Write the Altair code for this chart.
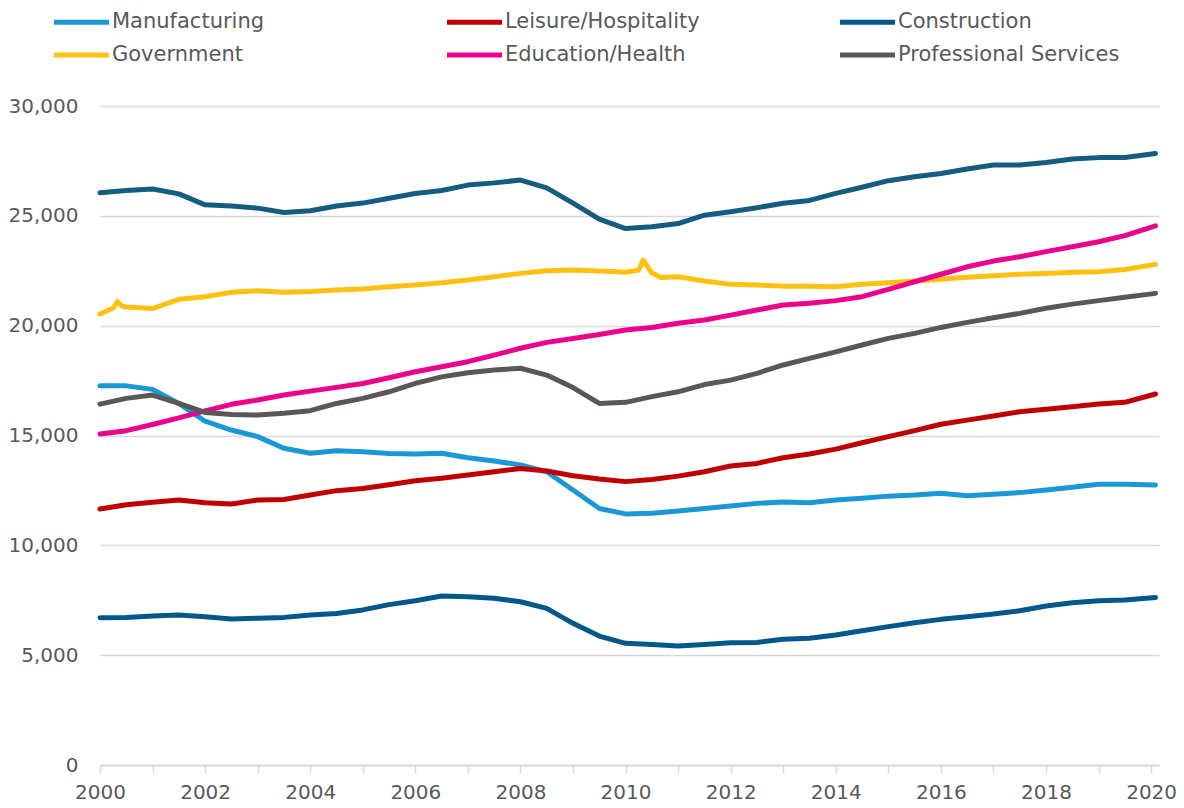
import altair as alt
import pandas as pd

# ---- data (thousands of employees) ----
DATES = [
    "2000-01", "2000-07", "2001-01", "2001-07", "2002-01", "2002-07", "2003-01", "2003-07",
    "2004-01", "2004-07", "2005-01", "2005-07", "2006-01", "2006-07", "2007-01", "2007-07",
    "2008-01", "2008-07", "2009-01", "2009-07", "2010-01", "2010-07", "2011-01", "2011-07",
    "2012-01", "2012-07", "2013-01", "2013-07", "2014-01", "2014-07", "2015-01", "2015-07",
    "2016-01", "2016-07", "2017-01", "2017-07", "2018-01", "2018-07", "2019-01", "2019-07",
    "2020-02",
]

TRADE = [26050, 26150, 26220, 26000, 25500, 25450, 25350, 25150, 25230, 25450, 25580, 25800,
         26020, 26150, 26400, 26500, 26630, 26270, 25580, 24850, 24420, 24500, 24650, 25030,
         25190, 25370, 25570, 25700, 26020, 26300, 26600, 26780, 26930, 27130, 27310, 27310,
         27430, 27585, 27650, 27660, 27840]
MANUFACTURING = [17260, 17260, 17100, 16460, 15650, 15250, 14950, 14420, 14190, 14310, 14260, 14180,
                 14160, 14190, 13990, 13840, 13660, 13350, 12520, 11680, 11430, 11460, 11560, 11680,
                 11790, 11910, 11970, 11940, 12060, 12140, 12240, 12290, 12370, 12260, 12320, 12400,
                 12520, 12640, 12780, 12780, 12750]
LEISURE = [11650, 11850, 11960, 12060, 11940, 11880, 12060, 12090, 12290, 12490, 12590, 12760,
           12940, 13050, 13200, 13350, 13500, 13380, 13170, 13020, 12900, 13000, 13150, 13350,
           13610, 13730, 13990, 14160, 14380, 14670, 14950, 15220, 15510, 15700, 15890, 16080,
           16190, 16310, 16430, 16510, 16890]
CONSTRUCTION = [6700, 6720, 6780, 6830, 6750, 6650, 6680, 6720, 6830, 6900, 7060, 7300,
                7480, 7690, 7660, 7590, 7430, 7130, 6450, 5870, 5540, 5490, 5420, 5490,
                5570, 5580, 5720, 5770, 5920, 6110, 6300, 6480, 6630, 6750, 6870, 7020,
                7240, 7390, 7480, 7510, 7630]
GOVERNMENT = [20530, 20850, 20780, 21200, 21320, 21520, 21590, 21520, 21550, 21620, 21670, 21770,
              21850, 21950, 22080, 22230, 22380, 22500, 22530, 22490, 22430, 22410, 22230, 22030,
              21880, 21850, 21800, 21800, 21770, 21890, 21950, 22030, 22110, 22200, 22270, 22340,
              22380, 22430, 22450, 22560, 22790]
EDUCATION = [15070, 15220, 15500, 15800, 16120, 16420, 16620, 16840, 17020, 17190, 17370, 17630,
             17900, 18130, 18360, 18660, 18970, 19240, 19420, 19600, 19800, 19920, 20110, 20260,
             20480, 20710, 20940, 21020, 21140, 21320, 21650, 22000, 22340, 22680, 22940, 23140,
             23370, 23590, 23820, 24100, 24540]
PROFESSIONAL = [16430, 16690, 16840, 16460, 16050, 15960, 15930, 16010, 16130, 16460, 16690, 16990,
                17370, 17670, 17860, 17980, 18060, 17750, 17180, 16460, 16510, 16770, 16990, 17320,
                17520, 17830, 18210, 18510, 18810, 19120, 19420, 19650, 19920, 20150, 20360, 20560,
                20790, 20980, 21140, 21290, 21470]

# census-hiring spikes in government employment
GOV_EXTRA_DATES = ["2000-04", "2000-05", "2000-06", "2010-04", "2010-05", "2010-06", "2010-09"]
GOV_EXTRA_VALUES = [20800, 21090, 20900, 22530, 22990, 22700, 22190]

SERIES = ["Trade", "Manufacturing", "Leisure/Hospitality", "Construction",
          "Government", "Education/Health", "Professional Services"]
VALUES = [TRADE, MANUFACTURING, LEISURE, CONSTRUCTION, GOVERNMENT, EDUCATION, PROFESSIONAL]
COLORS = ["#145c81", "#1a98d5", "#c00000", "#02588a", "#ffc012", "#ec008c", "#5b5759"]
LEGEND_ITEMS = ["Manufacturing", "Leisure/Hospitality", "Construction",
                "Government", "Education/Health", "Professional Services"]

rows = []
for order, (name, vals) in enumerate(zip(SERIES, VALUES)):
    dates = list(DATES)
    vv = list(vals)
    if name == "Government":
        dates += GOV_EXTRA_DATES
        vv += GOV_EXTRA_VALUES
    for d, v in zip(dates, vv):
        y, m = d.split("-")
        rows.append({"series": name, "order": order, "t": int(y) + (int(m) - 1) / 12, "value": v})
df = pd.DataFrame(rows).sort_values(["order", "t"])

YEARS = list(range(2000, 2021))
YTICKS = [0, 5000, 10000, 15000, 20000, 25000, 30000]
FONT = "DejaVu Sans"
TXT = "#595959"
GRID = "#d9d9d9"

chart = alt.Chart(df).mark_line(strokeWidth=5, strokeCap="round", strokeJoin="round").encode(
    x=alt.X("t:Q", title=None,
            scale=alt.Scale(domain=[2000, 2020.15], nice=False, zero=False),
            axis=alt.Axis(values=YEARS, format="d",
                          labelExpr="datum.value % 2 == 0 ? format(datum.value, 'd') : ''",
                          grid=False, domainColor=GRID, domainWidth=2,
                          tickColor=GRID, tickWidth=1.5, tickSize=8,
                          labelFont=FONT, labelFontSize=20, labelColor=TXT,
                          labelPadding=9, labelFlush=False, labelOverlap=False)),
    y=alt.Y("value:Q", title=None,
            scale=alt.Scale(domain=[0, 30000], nice=False),
            axis=alt.Axis(values=YTICKS, format=",.0f", domain=False, ticks=False,
                          gridColor=GRID, gridWidth=1.5,
                          labelFont=FONT, labelFontSize=20, labelColor=TXT, labelPadding=22)),
    color=alt.Color("series:N",
                    scale=alt.Scale(domain=SERIES, range=COLORS),
                    legend=alt.Legend(values=LEGEND_ITEMS, orient="none", legendX=-32, legendY=-97.5,
                                      columns=3, direction="horizontal", title=None,
                                      symbolType="M-2.5,0H2.5", symbolSize=484, symbolStrokeWidth=5,
                                      labelFont=FONT, labelFontSize=21, labelColor=TXT,
                                      labelOffset=17, columnPadding=103, rowPadding=9,
                                      gridAlign="all", padding=0, labelLimit=400)),
    detail="series:N",
    order=alt.Order("t:Q"),
).properties(
    width=1059, height=659,
    autosize=alt.AutoSizeParams(type="none"),
    padding={"left": 92, "top": 98, "right": 17, "bottom": 40},
).configure_view(stroke=None)

chart.save("out.html", embed_options={"renderer": "svg", "actions": False})
